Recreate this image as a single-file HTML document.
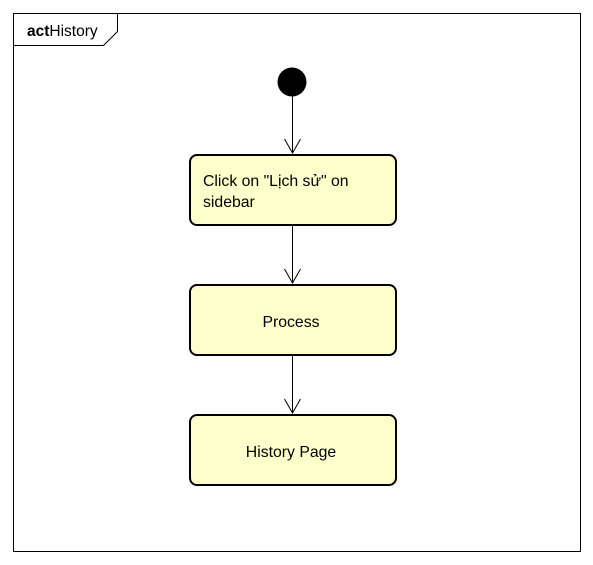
<!DOCTYPE html>
<html><head><style>body{margin:0;background:#fff}</style></head><body>
<svg width="593" height="565" xmlns="http://www.w3.org/2000/svg" style="display:block;font-family:'Liberation Sans',sans-serif">
<rect x="13.5" y="13.5" width="567" height="538" fill="#fff" stroke="#000"/>
<path d="M13.5 45.5 H103.5 L117.5 31.5 V13.5" fill="none" stroke="#000"/>
<text x="27" y="36" font-size="15.5"><tspan font-weight="bold">act</tspan>History</text>
<circle cx="292" cy="82" r="14.5" fill="#000"/>
<g stroke="#000" stroke-width="1" fill="none">
<line x1="292.5" y1="96" x2="292.5" y2="153"/><path d="M284.5 139 L292.5 153 L300.5 139"/>
<line x1="292.5" y1="226" x2="292.5" y2="283"/><path d="M284.5 269 L292.5 283 L300.5 269"/>
<line x1="292.5" y1="356" x2="292.5" y2="413"/><path d="M284.5 399 L292.5 413 L300.5 399"/>
</g>
<g fill="#FFFFCC" stroke="#000" stroke-width="2">
<rect x="190" y="155" width="206" height="70" rx="7"/>
<rect x="190" y="285" width="206" height="70" rx="7"/>
<rect x="190" y="415" width="206" height="70" rx="7"/>
</g>
<g font-size="15.8" fill="#000">
<text x="203" y="186">Click on "Lịch sử" on</text>
<text x="203" y="207">sidebar</text>
<text x="291" y="327" text-anchor="middle">Process</text>
<text x="291" y="457" text-anchor="middle">History Page</text>
</g>
</svg>
</body></html>
